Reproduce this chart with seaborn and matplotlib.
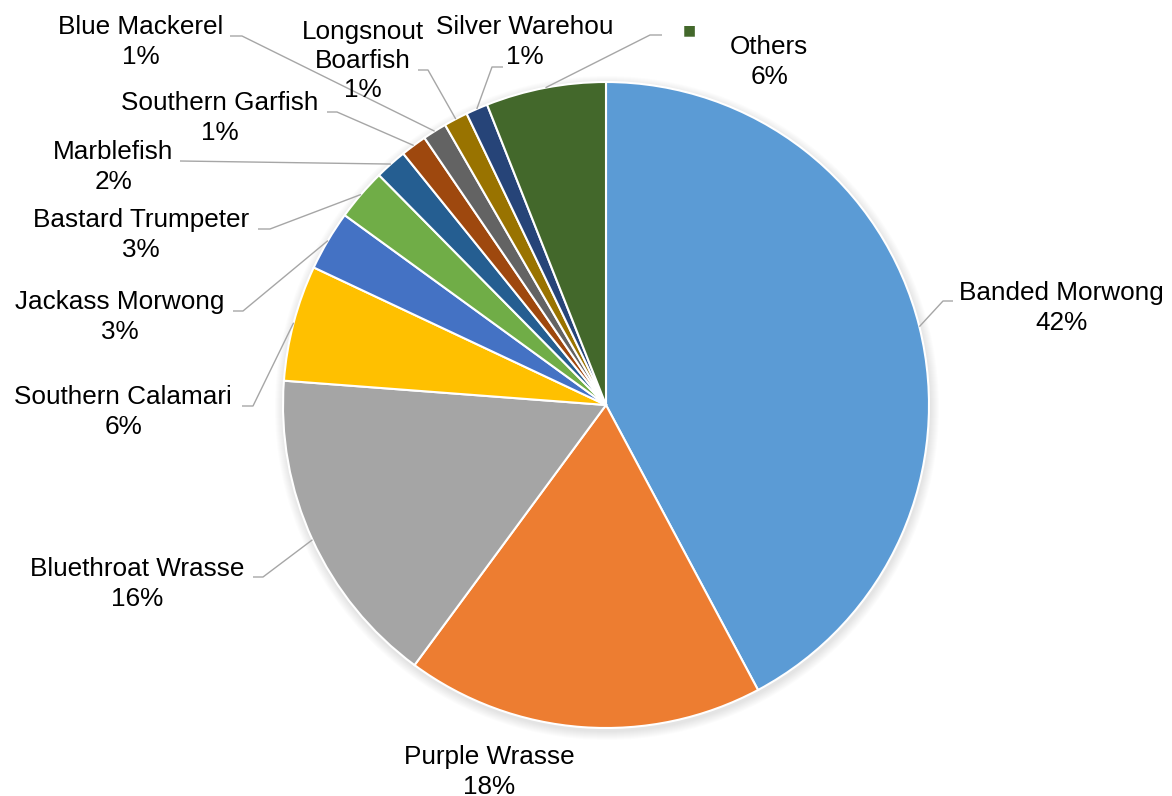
import numpy as np
import matplotlib
matplotlib.use("Agg")
import matplotlib.pyplot as plt
from matplotlib.patches import Circle
import seaborn as sns

# ---------------- data ----------------
species = ["Banded Morwong", "Purple Wrasse", "Bluethroat Wrasse", "Southern Calamari",
           "Jackass Morwong", "Bastard Trumpeter", "Marblefish", "Southern Garfish",
           "Blue Mackerel", "Longsnout Boarfish", "Silver Warehou", "Others"]
shares = [42.2, 17.9, 16.1, 5.8, 3.0, 2.6, 1.6, 1.3, 1.2, 1.2, 1.1, 6.0]

# ---------------- style ----------------
palette = ["#5B9BD5", "#ED7D31", "#A5A5A5", "#FFC000", "#4472C4", "#70AD47",
           "#255E91", "#9E480E", "#636363", "#997300", "#264478", "#43682B"]

W, H = 1172, 796
CX, CY, R = 606, 405, 323   # pie centre / radius in pixel layout (y down)

# label layout: text centre, elbow point, end of horizontal stub (pixels, y down)
layout = {
    "Banded Morwong":     dict(text=(1061, 308), elbow=(943, 301), stub=953),
    "Purple Wrasse":      dict(text=(489, 772), elbow=None, stub=None),
    "Bluethroat Wrasse":  dict(text=(137, 584), elbow=(263, 577), stub=253),
    "Southern Calamari":  dict(text=(123, 412), elbow=(253, 406), stub=242),
    "Jackass Morwong":    dict(text=(120, 317), elbow=(243, 311), stub=233),
    "Bastard Trumpeter":  dict(text=(141, 235), elbow=(270, 229), stub=258),
    "Marblefish":         dict(text=(113, 167), elbow=(180, 161), stub=180),
    "Southern Garfish":   dict(text=(220, 118), elbow=(337, 112), stub=327),
    "Blue Mackerel":      dict(text=(141, 42), elbow=(242, 36), stub=230),
    "Longsnout Boarfish": dict(text=(363, 61), elbow=(428, 70), stub=418, wrap=True),
    "Silver Warehou":     dict(text=(525, 42), elbow=(492, 67), stub=503),
    "Others":             dict(text=(769, 62), elbow=(650, 35), stub=662, key=(689, 30)),
}

sns.set_theme(style="white")
plt.rcParams["font.family"] = ["Liberation Sans", "DejaVu Sans"]

fig = plt.figure(figsize=(W / 100, H / 100), dpi=100)
ax = fig.add_axes([0, 0, 1, 1])

def fy(y):
    return H - y

# soft shadow around pie
for k in range(9, 0, -1):
    ax.add_patch(Circle((CX + 1, fy(CY) - 3), R + k, facecolor="black",
                        edgecolor="none", alpha=0.013, zorder=0))

wedges, _ = ax.pie(shares, colors=palette, startangle=90, counterclock=False,
                   center=(CX, fy(CY)), radius=R,
                   wedgeprops=dict(edgecolor="white", linewidth=1.5))
for w in wedges:
    w.set_zorder(2)

ax.set_xlim(0, W)
ax.set_ylim(0, H)
ax.set_aspect("equal", adjustable="box")
ax.axis("off")

line_col = "#A6A6A6"
for name, val, w in zip(species, shares, wedges):
    lay = layout[name]
    label_name = name.replace(" ", "\n") if lay.get("wrap") else name
    txt = f"{label_name}\n{val:.0f}%"
    tx, ty = lay["text"]
    ax.text(tx, fy(ty), txt, ha="center", va="center", fontsize=18.8,
            color="black", linespacing=1.27, zorder=5)
    if lay["elbow"] is not None:
        mid = np.deg2rad((w.theta1 + w.theta2) / 2)
        px = CX + R * np.cos(mid)
        py = fy(CY) + R * np.sin(mid)
        ex, ey = lay["elbow"]
        ax.plot([px, ex, lay["stub"]], [py, fy(ey), fy(ey)], color=line_col,
                lw=1.0, zorder=4, solid_capstyle="butt")
    if "key" in lay:
        kx, ky = lay["key"]
        ax.text(kx, fy(ky), "\u25A0", ha="center", va="center", fontsize=10,
                family="DejaVu Sans", color=palette[species.index(name)], zorder=5)

fig.savefig("out.png", dpi=100, facecolor="white")
